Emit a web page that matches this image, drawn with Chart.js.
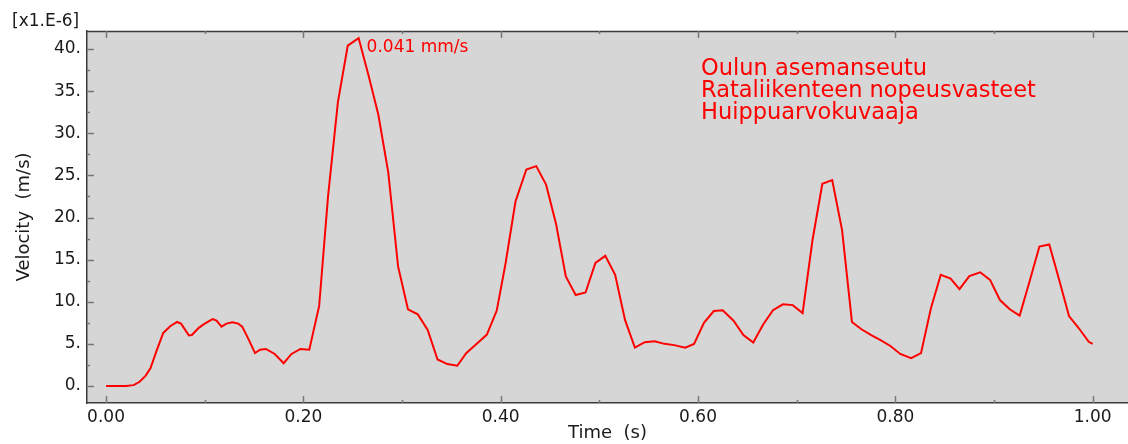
<!DOCTYPE html>
<html>
<head>
<meta charset="utf-8">
<script src="https://cdn.jsdelivr.net/npm/chart.js@4"></script>
<style>
  html, body { margin: 0; padding: 0; background: #fff; }
</style>
</head>
<body>
<canvas id="velChart" width="1128" height="444"></canvas>
<script>
// aika (s) ja nopeus (x1e-6 m/s)
const times = [0.000, 0.010, 0.020, 0.028, 0.034, 0.040, 0.045, 0.051, 0.058, 0.065,
  0.072, 0.076, 0.084, 0.087, 0.094, 0.100, 0.108, 0.112, 0.117, 0.122,
  0.128, 0.134, 0.138, 0.144, 0.151, 0.156, 0.162, 0.171, 0.180, 0.188,
  0.197, 0.206, 0.216, 0.225, 0.235, 0.245, 0.256, 0.266, 0.276, 0.286,
  0.296, 0.306, 0.316, 0.326, 0.336, 0.346, 0.356, 0.365, 0.376, 0.386,
  0.396, 0.405, 0.415, 0.426, 0.436, 0.446, 0.456, 0.466, 0.476, 0.486,
  0.496, 0.506, 0.516, 0.526, 0.536, 0.546, 0.556, 0.566, 0.576, 0.587,
  0.596, 0.606, 0.616, 0.625, 0.636, 0.646, 0.656, 0.666, 0.676, 0.686,
  0.696, 0.706, 0.716, 0.726, 0.736, 0.746, 0.756, 0.766, 0.776, 0.785,
  0.795, 0.805, 0.816, 0.826, 0.836, 0.846, 0.856, 0.865, 0.875, 0.886,
  0.896, 0.906, 0.916, 0.926, 0.936, 0.946, 0.956, 0.966, 0.976, 0.986,
  0.996, 1.000];
const velocities = [0.0, 0.0, 0.0, 0.1, 0.5, 1.2, 2.1, 4.1, 6.3, 7.1,
  7.6, 7.4, 6.0, 6.05, 6.9, 7.4, 7.95, 7.75, 7.05, 7.4,
  7.55, 7.4, 7.05, 5.65, 3.9, 4.3, 4.4, 3.8, 2.7, 3.8,
  4.4, 4.3, 9.5, 22.5, 33.7, 40.4, 41.3, 36.9, 32.2, 25.4,
  14.2, 9.1, 8.5, 6.65, 3.15, 2.6, 2.4, 3.9, 5.05, 6.1,
  8.95, 14.6, 21.9, 25.7, 26.1, 23.9, 19.3, 13.0, 10.8, 11.1,
  14.6, 15.45, 13.2, 7.85, 4.55, 5.2, 5.3, 5.0, 4.85, 4.55,
  5.0, 7.5, 8.9, 9.0, 7.75, 6.05, 5.15, 7.3, 9.0, 9.7,
  9.6, 8.65, 17.3, 24.0, 24.45, 18.5, 7.6, 6.7, 6.0, 5.45,
  4.75, 3.8, 3.3, 3.9, 9.2, 13.2, 12.75, 11.5, 13.05, 13.5,
  12.6, 10.2, 9.1, 8.35, 12.4, 16.55, 16.8, 12.6, 8.3, 6.85,
  5.25, 5.0];

// akselien jaotukset
const xMajorTicks = [0.0, 0.2, 0.4, 0.6, 0.8, 1.0];
const xMinorTicks = [0.1, 0.3, 0.5, 0.7, 0.9];
const yMajorTicks = [0, 5, 10, 15, 20, 25, 30, 35, 40];
const yMinorTicks = [2.5, 7.5, 12.5, 17.5, 22.5, 27.5, 32.5, 37.5];

const titleLines = ['Oulun asemanseutu', 'Rataliikenteen nopeusvasteet', 'Huippuarvokuvaaja'];
const peakLabel = '0.041 mm/s';
const scaleLabel = '[x1.E-6]';

const FONT = '"DejaVu Sans", Verdana, sans-serif';

// tausta, tikit ja tekstit
const decorPlugin = {
    id: 'decor',
    beforeDraw(chart) {
        const { ctx, chartArea: a } = chart;
        ctx.save();
        ctx.fillStyle = '#d6d6d6';
        ctx.fillRect(a.left, a.top, a.right - a.left, a.bottom - a.top);
        ctx.restore();
    },
    afterDraw(chart) {
        const { ctx, chartArea: a, scales } = chart;
        const xs = scales.x, ys = scales.y;
        ctx.save();
        // yläreuna
        ctx.strokeStyle = '#3a3a3a';
        ctx.lineWidth = 1.5;
        ctx.beginPath();
        ctx.moveTo(a.left, a.top + 0.5);
        ctx.lineTo(a.right, a.top + 0.5);
        ctx.stroke();

        ctx.strokeStyle = '#777';
        ctx.lineWidth = 1.5;
        const tick = (x1, y1, x2, y2) => { ctx.beginPath(); ctx.moveTo(x1, y1); ctx.lineTo(x2, y2); ctx.stroke(); };
        xMajorTicks.forEach(v => {
            const px = Math.round(xs.getPixelForValue(v)) + 0.5;
            tick(px, a.bottom, px, a.bottom - 7);
            tick(px, a.top, px, a.top + 7);
        });
        xMinorTicks.forEach(v => {
            const px = Math.round(xs.getPixelForValue(v)) + 0.5;
            tick(px, a.bottom, px, a.bottom - 3);
            tick(px, a.top, px, a.top + 3);
        });
        yMajorTicks.forEach(v => {
            const py = Math.round(ys.getPixelForValue(v)) + 0.5;
            tick(a.left, py, a.left + 7, py);
        });
        yMinorTicks.forEach(v => {
            const py = Math.round(ys.getPixelForValue(v)) + 0.5;
            tick(a.left, py, a.left + 3, py);
        });

        // huippuarvo
        let iMax = 0;
        velocities.forEach((v, i) => { if (v > velocities[iMax]) iMax = i; });
        const pxPeak = xs.getPixelForValue(times[iMax]);
        const pyPeak = ys.getPixelForValue(velocities[iMax]);
        ctx.fillStyle = '#ff0000';
        ctx.textAlign = 'left';
        ctx.textBaseline = 'alphabetic';
        ctx.font = '17px ' + FONT;
        ctx.fillText(peakLabel, pxPeak + 8, pyPeak + 14);

        // otsikko
        ctx.font = '22.5px ' + FONT;
        titleLines.forEach((t, i) => ctx.fillText(t, 701, 75 + i * 22));

        // kerroin
        ctx.fillStyle = '#1a1a1a';
        ctx.font = '17px ' + FONT;
        ctx.fillText(scaleLabel, 12, 26);
        ctx.restore();
    }
};

const ctx = document.getElementById('velChart').getContext('2d');

const data = {
    datasets: [{
        label: 'Velocity',
        data: times.map((t, i) => ({ x: t, y: velocities[i] })),
        borderColor: '#ff0000',
        borderWidth: 2,
        pointRadius: 0,
        tension: 0,
        fill: false,
    }]
};

const options = {
    responsive: false,
    animation: false,
    layout: { padding: { top: 31, left: 0, right: 0, bottom: 0 } },
    plugins: {
        legend: { display: false },
        tooltip: { enabled: false },
    },
    scales: {
        x: {
            type: 'linear',
            min: -0.0193,
            max: 1.0358,
            afterFit(scale) { scale.height = 41; },
            afterBuildTicks(scale) { scale.ticks = xMajorTicks.map(v => ({ value: v })); },
            grid: { display: false, drawTicks: false },
            border: { display: true, color: '#3a3a3a', width: 1.5 },
            ticks: {
                color: '#1a1a1a',
                padding: 4,
                autoSkip: false,
                maxRotation: 0,
                font: { family: FONT, size: 17 },
                callback: v => v.toFixed(2),
            },
            title: {
                display: true,
                text: 'Time  (s)',
                color: '#1a1a1a',
                font: { family: FONT, size: 18 },
                padding: { top: 0, bottom: 0 },
            }
        },
        y: {
            min: -2.02,
            max: 42.14,
            afterFit(scale) { scale.width = 87; },
            afterBuildTicks(scale) { scale.ticks = yMajorTicks.map(v => ({ value: v })); },
            grid: { display: false, drawTicks: false },
            border: { display: true, color: '#3a3a3a', width: 1.5 },
            ticks: {
                color: '#1a1a1a',
                padding: 6,
                font: { family: FONT, size: 17 },
                callback: v => v + '.',
            },
            title: {
                display: true,
                text: 'Velocity  (m/s)',
                color: '#1a1a1a',
                font: { family: FONT, size: 18 },
                padding: { top: 14, bottom: 0 },
            }
        }
    }
};

const velChart = new Chart(ctx, {
    type: 'line',
    data: data,
    options: options,
    plugins: [decorPlugin],
});
</script>
</body>
</html>
